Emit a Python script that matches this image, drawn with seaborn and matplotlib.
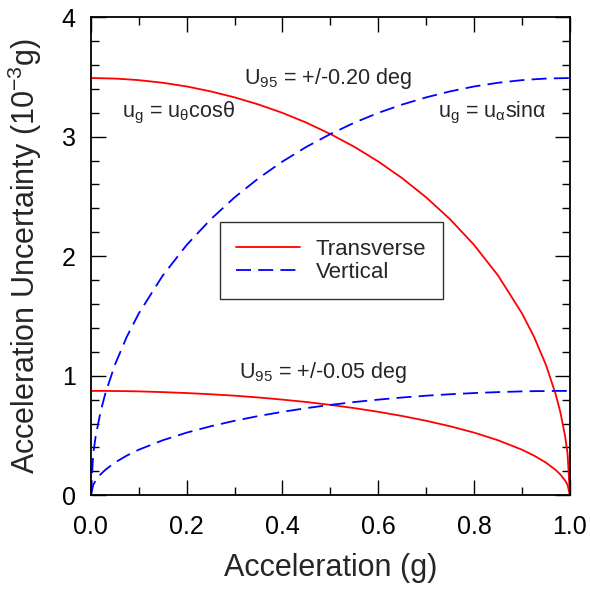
import matplotlib
matplotlib.use("Agg")
import matplotlib.pyplot as plt
from matplotlib.ticker import MultipleLocator
import pandas as pd
import seaborn as sns

# Acceleration (g)
accel = [0, 0.005, 0.01, 0.02, 0.03, 0.05, 0.075, 0.1, 0.15, 0.2, 0.25, 0.3, 0.35, 0.4, 0.45,
         0.5, 0.55, 0.6, 0.65, 0.7, 0.75, 0.8, 0.85, 0.9, 0.925, 0.95, 0.97, 0.98, 0.99, 0.995, 1.0]

# U95 = +/-0.20 deg (10^-3 g)
trans_020 = [3.490, 3.490, 3.490, 3.489, 3.488, 3.486, 3.480, 3.473, 3.451, 3.420, 3.379, 3.329,
             3.269, 3.199, 3.117, 3.022, 2.915, 2.792, 2.652, 2.492, 2.308, 2.094, 1.838, 1.521,
             1.326, 1.090, 0.848, 0.695, 0.492, 0.349, 0.0]
vert_020 = [0.0, 0.349, 0.492, 0.695, 0.848, 1.090, 1.326, 1.521, 1.838, 2.094, 2.308, 2.492,
            2.652, 2.792, 2.915, 3.022, 3.117, 3.199, 3.269, 3.329, 3.379, 3.420, 3.451, 3.473,
            3.480, 3.486, 3.488, 3.489, 3.490, 3.490, 3.490]

# U95 = +/-0.05 deg (10^-3 g)
trans_005 = [0.873, 0.873, 0.873, 0.873, 0.873, 0.872, 0.871, 0.869, 0.863, 0.855, 0.845, 0.833,
             0.818, 0.800, 0.780, 0.756, 0.729, 0.698, 0.663, 0.623, 0.577, 0.524, 0.460, 0.381,
             0.332, 0.273, 0.212, 0.174, 0.123, 0.087, 0.0]
vert_005 = [0.0, 0.087, 0.123, 0.174, 0.212, 0.273, 0.332, 0.381, 0.460, 0.524, 0.577, 0.623,
            0.663, 0.698, 0.729, 0.756, 0.780, 0.800, 0.818, 0.833, 0.845, 0.855, 0.863, 0.869,
            0.871, 0.872, 0.873, 0.873, 0.873, 0.873, 0.873]

series_labels = ["Transverse", "Vertical"]

sns.set_theme(style="ticks")
plt.rcParams["font.family"] = ["Liberation Sans", "DejaVu Sans"]
plt.rcParams["mathtext.fontset"] = "custom"
plt.rcParams["mathtext.rm"] = "Liberation Sans"
plt.rcParams["mathtext.it"] = "Liberation Sans"
plt.rcParams["mathtext.bf"] = "Liberation Sans"

fig = plt.figure(figsize=(5.9, 5.91), dpi=100)
ax = fig.add_axes([0.154, 0.162, 0.812, 0.809])

df = pd.DataFrame({"a": accel, "t20": trans_020, "v20": vert_020,
                   "t05": trans_005, "v05": vert_005})

red = "#ff0000"
blue = "#0000ff"
dash = (8.3, 4)

sns.lineplot(data=df, x="a", y="t20", ax=ax, color=red, lw=1.3, label=series_labels[0], sort=False)
sns.lineplot(data=df, x="a", y="v20", ax=ax, color=blue, lw=1.3, label=series_labels[1], sort=False)
sns.lineplot(data=df, x="a", y="t05", ax=ax, color=red, lw=1.3, legend=False, sort=False)
sns.lineplot(data=df, x="a", y="v05", ax=ax, color=blue, lw=1.3, legend=False, sort=False)
lines = ax.get_lines()
lines[1].set_dashes(dash)
lines[3].set_dashes(dash)

ax.set_xlim(0, 1)
ax.set_ylim(0, 4)
ax.xaxis.set_major_locator(MultipleLocator(0.2))
ax.xaxis.set_minor_locator(MultipleLocator(0.1))
ax.yaxis.set_major_locator(MultipleLocator(1))
ax.yaxis.set_minor_locator(MultipleLocator(0.2))
ax.set_xticklabels([f"{v:.1f}" for v in ax.get_xticks()])
ax.set_yticklabels([f"{v:.0f}" for v in ax.get_yticks()])
ax.tick_params(which="both", direction="in", top=True, right=True, colors="black",
               width=1.0, labelsize=18)
ax.tick_params(axis="x", which="major", pad=14)
ax.tick_params(axis="y", which="major", pad=11)
ax.tick_params(which="major", length=11)
ax.tick_params(which="minor", length=5.5)
for s in ax.spines.values():
    s.set_color("black")
    s.set_linewidth(1.3)

ax.set_xlabel("Acceleration (g)", fontsize=22, labelpad=10)
ax.set_ylabel(r"Acceleration Uncertainty (10$^{\mathregular{-3}}$g)", fontsize=22, labelpad=13)

tfs = 15.5
ax.text(0.32, 3.49, r"U$_{\mathregular{95}}$ = +/-0.20 deg", fontsize=tfs, va="center", ha="left")
ax.text(0.31, 1.03, r"U$_{\mathregular{95}}$ = +/-0.05 deg", fontsize=tfs, va="center", ha="left")
ax.text(0.065, 3.2, r"u$_{\mathregular{g}}$ = u$_{\mathregular{θ}}$cosθ", fontsize=tfs, va="center", ha="left")
ax.text(0.724, 3.2, r"u$_{\mathregular{g}}$ = u$_{\mathregular{α}}$sinα", fontsize=tfs, va="center", ha="left")

handles = [lines[0], lines[1]]
leg = ax.legend(handles, series_labels, loc="upper left", bbox_to_anchor=(0.269, 0.571),
                fontsize=16, frameon=True, fancybox=False, borderaxespad=0,
                handlelength=2.85, borderpad=0.75, labelspacing=0.08, handletextpad=0.72)
leg.get_frame().set_edgecolor("black")
leg.get_frame().set_linewidth(1.0)

fig.savefig("out.png", dpi=100)
